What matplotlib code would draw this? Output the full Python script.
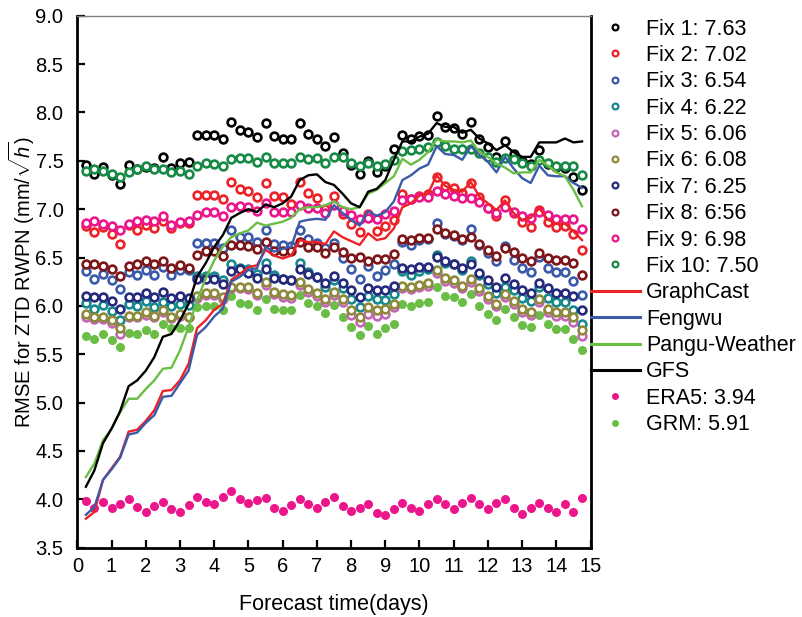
import matplotlib
matplotlib.use("Agg")
import matplotlib.pyplot as plt
from matplotlib.lines import Line2D

plt.rcParams['font.family'] = ['Liberation Sans', 'DejaVu Sans']
plt.rcParams['mathtext.fontset'] = 'custom'
plt.rcParams['mathtext.rm'] = 'Liberation Sans'
plt.rcParams['mathtext.it'] = 'Liberation Sans:italic'

# forecast time, every 6 h from 0.25 to 14.75 days
days = [0.25 * (i + 1) for i in range(59)]

fix1 = [7.46, 7.36, 7.44, 7.35, 7.26, 7.46, 7.42, 7.44, 7.43, 7.54, 7.43, 7.48, 7.49,
        7.77, 7.77, 7.77, 7.72, 7.90, 7.82, 7.80, 7.75, 7.89,
        7.76, 7.72, 7.72, 7.89, 7.78, 7.72, 7.65, 7.75, 7.58,
        7.46, 7.36, 7.50, 7.38, 7.45, 7.62,
        7.77, 7.72, 7.76, 7.77, 7.96, 7.85, 7.84, 7.78, 7.90, 7.72, 7.64, 7.54, 7.70, 7.57,
        7.50, 7.47, 7.61, 7.47, 7.44, 7.43, 7.33, 7.20]
fix2 = [6.83, 6.76, 6.82, 6.74, 6.64, 6.84, 6.78, 6.84, 6.81, 6.88, 6.81, 6.86, 6.86,
        7.15, 7.15, 7.15, 7.10, 7.28, 7.21, 7.19, 7.13, 7.27,
        7.14, 7.13, 7.05, 7.28, 7.17, 7.12, 7.00, 7.14, 6.95,
        6.85, 6.76, 6.95, 6.77, 6.83, 6.89,
        7.16, 7.10, 7.14, 7.16, 7.33, 7.24, 7.22, 7.17, 7.27, 7.13, 7.01, 6.93, 7.09, 6.96,
        6.87, 6.82, 6.99, 6.87, 6.82, 6.83, 6.74, 6.58]
fix3 = [6.36, 6.28, 6.33, 6.27, 6.17, 6.35, 6.32, 6.37, 6.32, 6.40, 6.32, 6.37, 6.37,
        6.65, 6.65, 6.65, 6.60, 6.78, 6.71, 6.71, 6.66, 6.78,
        6.64, 6.63, 6.62, 6.78, 6.69, 6.65, 6.60, 6.65, 6.49,
        6.38, 6.28, 6.41, 6.31, 6.37, 6.43,
        6.66, 6.63, 6.68, 6.69, 6.86, 6.74, 6.72, 6.68, 6.79, 6.63, 6.55, 6.46, 6.62, 6.47,
        6.39, 6.35, 6.51, 6.39, 6.35, 6.35, 6.26, 6.11]
fix4 = [6.03, 5.97, 6.01, 5.95, 5.85, 6.02, 6.00, 6.05, 5.99, 6.04, 6.00, 6.02, 6.01,
        6.31, 6.31, 6.31, 6.27, 6.43, 6.39, 6.38, 6.33, 6.44,
        6.32, 6.28, 6.27, 6.44, 6.35, 6.30, 6.20, 6.27, 6.18,
        6.07, 5.99, 6.10, 6.07, 6.06, 6.12,
        6.36, 6.32, 6.36, 6.38, 6.53, 6.44, 6.43, 6.37, 6.46, 6.32, 6.23, 6.13, 6.20, 6.16,
        6.08, 6.05, 6.19, 6.08, 6.04, 6.04, 5.96, 5.81]
fix5 = [5.89, 5.86, 5.86, 5.82, 5.71, 5.89, 5.89, 5.91, 5.88, 5.94, 5.87, 5.90, 5.88,
        6.08, 6.11, 6.11, 6.07, 6.18, 6.18, 6.17, 6.11, 6.22,
        6.12, 6.09, 6.08, 6.22, 6.14, 6.10, 6.04, 6.11, 6.04,
        5.91, 5.83, 5.92, 5.90, 5.92, 5.99,
        6.18, 6.17, 6.19, 6.21, 6.34, 6.26, 6.24, 6.18, 6.25, 6.15, 6.07, 6.00, 6.09, 6.02,
        5.94, 5.91, 6.04, 5.94, 5.90, 5.90, 5.83, 5.69]
fix6 = [5.92, 5.89, 5.89, 5.85, 5.77, 5.90, 5.90, 5.94, 5.90, 5.96, 5.89, 5.92, 5.89,
        6.10, 6.13, 6.13, 6.09, 6.20, 6.20, 6.19, 6.13, 6.25,
        6.14, 6.12, 6.11, 6.25, 6.17, 6.13, 6.07, 6.14, 6.07,
        5.96, 5.89, 5.99, 5.96, 5.97, 6.02,
        6.21, 6.20, 6.22, 6.24, 6.37, 6.29, 6.27, 6.21, 6.28, 6.18, 6.10, 6.02, 6.12, 6.05,
        5.97, 5.94, 6.07, 5.97, 5.94, 5.94, 5.89, 5.75]
fix7 = [6.10, 6.09, 6.09, 6.05, 5.97, 6.09, 6.09, 6.13, 6.09, 6.14, 6.08, 6.10, 6.08,
        6.28, 6.28, 6.28, 6.23, 6.36, 6.38, 6.34, 6.29, 6.38,
        6.29, 6.28, 6.27, 6.38, 6.33, 6.30, 6.24, 6.31, 6.24,
        6.16, 6.09, 6.18, 6.16, 6.16, 6.21,
        6.39, 6.38, 6.40, 6.40, 6.51, 6.46, 6.43, 6.39, 6.43, 6.34, 6.27, 6.20, 6.29, 6.23,
        6.16, 6.13, 6.24, 6.18, 6.13, 6.13, 6.10, 5.96]
fix8 = [6.43, 6.43, 6.41, 6.38, 6.31, 6.41, 6.43, 6.46, 6.43, 6.46, 6.39, 6.42, 6.39,
        6.53, 6.57, 6.57, 6.52, 6.63, 6.63, 6.62, 6.59, 6.66,
        6.57, 6.57, 6.57, 6.66, 6.61, 6.61, 6.55, 6.61, 6.56,
        6.49, 6.51, 6.46, 6.48, 6.48, 6.54,
        6.69, 6.68, 6.70, 6.70, 6.79, 6.75, 6.73, 6.69, 6.71, 6.64, 6.58, 6.52, 6.60, 6.56,
        6.49, 6.46, 6.55, 6.50, 6.47, 6.47, 6.44, 6.32]
fix9 = [6.86, 6.88, 6.85, 6.83, 6.78, 6.85, 6.88, 6.89, 6.88, 6.93, 6.84, 6.87, 6.88,
        6.94, 6.97, 6.97, 6.93, 7.02, 7.03, 7.02, 6.98, 7.06,
        6.97, 6.97, 6.97, 7.04, 7.01, 7.01, 6.96, 7.04, 6.98,
        6.94, 6.90, 6.91, 6.90, 6.95, 6.98,
        7.09, 7.10, 7.13, 7.13, 7.19, 7.16, 7.14, 7.12, 7.12, 7.07, 7.01, 6.96, 7.02, 6.97,
        6.93, 6.91, 6.97, 6.94, 6.90, 6.90, 6.90, 6.79]
fix10 = [7.39, 7.42, 7.39, 7.36, 7.33, 7.38, 7.41, 7.45, 7.42, 7.42, 7.38, 7.39, 7.36,
         7.45, 7.48, 7.47, 7.45, 7.52, 7.53, 7.53, 7.49, 7.54,
         7.48, 7.48, 7.48, 7.54, 7.52, 7.53, 7.48, 7.54, 7.54,
         7.48, 7.45, 7.48, 7.45, 7.47, 7.51,
         7.60, 7.61, 7.62, 7.64, 7.69, 7.65, 7.62, 7.62, 7.62, 7.58, 7.54, 7.49, 7.53, 7.52,
         7.48, 7.45, 7.51, 7.48, 7.45, 7.45, 7.45, 7.35]

graphcast = [3.80, 3.87, 4.20, 4.32, 4.44, 4.70, 4.72, 4.81, 4.92, 5.12, 5.13, 5.23, 5.40,
             5.77, 5.85, 5.96, 6.02, 6.27, 6.33, 6.40, 6.42, 6.58,
             6.52, 6.49, 6.52, 6.68, 6.66, 6.66, 6.64, 6.77, 6.71,
             6.67, 6.63, 6.75, 6.68, 6.70, 6.80,
             7.02, 7.06, 7.14, 7.16, 7.35, 7.24, 7.20, 7.18, 7.28, 7.13, 7.06, 6.99, 7.09, 6.96,
             6.89, 6.91, 7.01, 6.89, 6.85, 6.85, 6.77, 6.68]
fengwu = [3.84, 3.92, 4.20, 4.31, 4.43, 4.67, 4.69, 4.79, 4.87, 5.06, 5.07, 5.20, 5.33,
          5.70, 5.78, 5.89, 5.97, 6.25, 6.30, 6.37, 6.39, 6.61,
          6.56, 6.59, 6.61, 6.87, 6.89, 6.90, 6.89, 7.04, 6.96,
          6.89, 6.83, 6.98, 6.93, 6.97, 7.08,
          7.30, 7.35, 7.42, 7.46, 7.65, 7.57, 7.56, 7.51, 7.65, 7.56, 7.49, 7.38, 7.54, 7.42,
          7.32, 7.27, 7.45, 7.35, 7.34, 7.34, 7.27, 7.22]
pangu = [4.23, 4.37, 4.61, 4.73, 4.90, 5.04, 5.04, 5.14, 5.23, 5.35, 5.36, 5.54, 5.78,
         6.06, 6.28, 6.47, 6.61, 6.71, 6.75, 6.78, 6.86, 6.83,
         6.85, 6.87, 6.91, 7.00, 7.02, 7.02, 7.04, 7.08, 7.02,
         7.00, 7.02, 7.16, 7.20, 7.27, 7.34,
         7.52, 7.46, 7.51, 7.59, 7.72, 7.70, 7.70, 7.69, 7.71, 7.59, 7.54, 7.47, 7.43, 7.37,
         7.38, 7.38, 7.51, 7.45, 7.38, 7.34, 7.20, 7.03]
gfs = [4.13, 4.30, 4.58, 4.73, 4.91, 5.17, 5.23, 5.33, 5.47, 5.68, 5.71, 5.85, 6.02,
       6.30, 6.44, 6.61, 6.73, 6.91, 6.96, 7.00, 6.97, 7.05,
       7.02, 7.06, 7.13, 7.30, 7.35, 7.36, 7.28, 7.25, 7.16,
       7.06, 7.02, 7.18, 7.21, 7.30, 7.51,
       7.70, 7.70, 7.75, 7.78, 7.89, 7.85, 7.85, 7.79, 7.82, 7.73, 7.68, 7.61, 7.66, 7.59,
       7.54, 7.54, 7.69, 7.69, 7.69, 7.73, 7.69, 7.70]

era5 = [3.98, 3.91, 3.97, 3.91, 3.95, 4.00, 3.92, 3.87, 3.93, 3.97, 3.90, 3.87, 3.94,
        4.02, 3.97, 3.95, 4.02, 4.09, 4.00, 3.96, 3.99, 4.01, 3.91, 3.88, 3.94, 4.00,
        3.95, 3.91, 3.97, 4.02, 3.93, 3.88, 3.91, 3.95, 3.86, 3.84, 3.90, 3.96, 3.91,
        3.88, 3.95, 4.00, 3.95, 3.90, 3.96, 4.01, 3.95, 3.90, 3.96, 4.00, 3.91, 3.85,
        3.91, 3.96, 3.91, 3.87, 3.95, 3.87, 4.01]
grm = [5.69, 5.66, 5.71, 5.65, 5.58, 5.72, 5.71, 5.75, 5.71, 5.81, 5.77, 5.77, 5.77,
       5.99, 6.00, 6.00, 5.96, 6.10, 6.03, 6.02, 5.96, 6.07,
       5.97, 5.96, 5.96, 6.11, 6.03, 6.00, 5.93, 6.01, 5.89,
       5.78, 5.70, 5.79, 5.71, 5.77, 5.81,
       6.02, 6.00, 6.03, 6.04, 6.19, 6.10, 6.09, 6.04, 6.12, 6.00, 5.92, 5.85, 5.97, 5.88,
       5.80, 5.78, 5.91, 5.81, 5.76, 5.76, 5.66, 5.54]

fix_series = [fix1, fix2, fix3, fix4, fix5, fix6, fix7, fix8, fix9, fix10]
fix_labels = ['Fix 1: 7.63', 'Fix 2: 7.02', 'Fix 3: 6.54', 'Fix 4: 6.22', 'Fix 5: 6.06',
              'Fix 6: 6.08', 'Fix 7: 6.25', 'Fix 8: 6:56', 'Fix 9: 6.98', 'Fix 10: 7.50']
fix_colors = ['#000000', '#ec2227', '#3b5aa9', '#15898c', '#c266b5',
              '#8e8a3c', '#262a7c', '#7d1619', '#ec168c', '#178a45']
line_series = [graphcast, fengwu, pangu, gfs]
line_labels = ['GraphCast', 'Fengwu', 'Pangu-Weather', 'GFS']
line_colors = ['#ec2227', '#3b5aa9', '#6abd45', '#000000']

fig = plt.figure(figsize=(8.02, 6.17), dpi=100)
ax = fig.add_axes([0.0964, 0.1123, 0.64, 0.8623])

handles = []
for vals, lab, col in zip(fix_series, fix_labels, fix_colors):
    ax.plot(days, vals, 'o', ms=5.6, mfc='white', mec=col, mew=1.9, zorder=3)
    handles.append(Line2D([], [], ls='none', marker='o', ms=4.2, mfc='white', mec=col,
                          mew=1.6, label=lab))
for vals, lab, col in zip(line_series, line_labels, line_colors):
    ax.plot(days, vals, '-', color=col, lw=1.7, zorder=4)
    handles.append(Line2D([], [], color=col, lw=2.2, label=lab))
ax.plot(days, era5, 'o', ms=6.5, color='#ec168c', mec='none', zorder=3)
ax.plot(days, grm, 'o', ms=6.5, color='#6abd45', mec='none', zorder=2)
handles.append(Line2D([], [], ls='none', marker='o', ms=5, color='#ec168c', mec='none',
                      label='ERA5: 3.94'))
handles.append(Line2D([], [], ls='none', marker='o', ms=5, color='#6abd45', mec='none',
                      label='GRM: 5.91'))

ax.set_xlim(0, 15)
ax.set_ylim(3.5, 9.0)
ax.set_xticks(range(0, 16))
ax.set_yticks([3.5 + 0.5 * i for i in range(12)])
ax.set_yticklabels(['%.1f' % (3.5 + 0.5 * i) for i in range(12)])
ax.tick_params(direction='in', length=6, width=1.6, labelsize=14.5, top=False, right=False)
ax.tick_params(axis='y', pad=10)
ax.tick_params(axis='x', pad=7)
for s in ['left', 'bottom', 'right']:
    ax.spines[s].set_linewidth(2)
    ax.spines[s].set_color('black')
ax.spines['top'].set_linewidth(1)
ax.spines['top'].set_color('#808080')

ax.set_xlabel('Forecast time(days)', fontsize=15.5, labelpad=12.5)
ax.set_ylabel(r'RMSE for ZTD RWPN (mm/$\sqrt{h}$)', fontsize=14.5, labelpad=-1)

fig.legend(handles=handles, loc='upper left', bbox_to_anchor=(0.737, 0.970),
           frameon=False, fontsize=15.5, handlelength=2.25, handletextpad=0.3,
           labelspacing=0.25, borderpad=0, borderaxespad=0)

fig.savefig('out.png', dpi=100)
